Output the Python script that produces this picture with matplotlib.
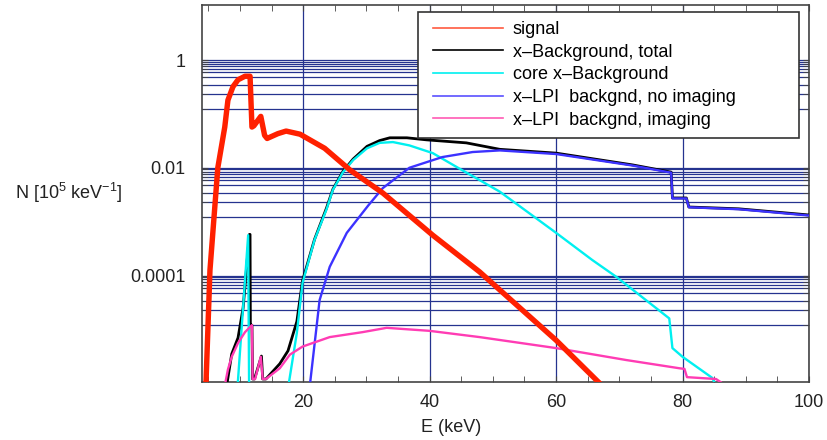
import numpy as np
import matplotlib
matplotlib.use('Agg')
import matplotlib.pyplot as plt
from matplotlib.ticker import FixedLocator, NullFormatter, MultipleLocator
from matplotlib.legend_handler import HandlerLine2D

plt.rcParams['font.family'] = ['Liberation Sans', 'DejaVu Sans']
plt.rcParams['mathtext.fontset'] = 'custom'
plt.rcParams['mathtext.rm'] = 'Liberation Sans'

# signal
signal_E = [4.6, 5.26, 6.5, 7.6, 8.1, 8.9, 9.7, 10.8, 11.6, 11.9, 12.2, 13.3, 13.9, 14.3,
            16.0, 17.3, 19.5, 23.4, 27.4, 32.6, 40.5, 47.9, 60.0, 67.5]
signal_N = [8e-7, 1.26e-4, 0.01, 0.057, 0.18, 0.32, 0.43, 0.5, 0.5, 0.057, 0.06, 0.09, 0.04, 0.035,
            0.043, 0.048, 0.042, 0.023, 0.0091, 0.0034, 5.6e-4, 1.17e-4, 6.3e-6, 8.5e-7]

# x-Background total
total_E = [7.9, 8.7, 9.7, 10.5, 11.0, 11.5, 11.6, 11.65, 11.9, 12.0, 12.3, 13.4, 13.6, 14.1,
           16.3, 17.6, 19.0, 19.9, 21.8, 23.7, 24.7, 26.3, 27.9, 30.1, 32.1, 33.7, 36.4, 39.5,
           45.8, 51.1, 60.0, 72.1, 78.2, 78.4, 80.6, 81.0, 88.9, 100]
total_N = [9e-7, 3.5e-6, 7e-6, 2.5e-5, 1.2e-4, 5.8e-4, 5.8e-4, 1.2e-5, 1.2e-5, 1.2e-6, 1.2e-6,
           3.2e-6, 1.2e-6, 1.2e-6, 2.3e-6, 4e-6, 1.4e-5, 8e-5, 4.7e-4, 1.8e-3, 4e-3, 8.6e-3,
           0.0145, 0.025, 0.032, 0.036, 0.036, 0.033, 0.029, 0.022, 0.0187, 0.0113, 8.3e-3,
           2.75e-3, 2.75e-3, 1.87e-3, 1.73e-3, 1.33e-3]

# core x-Background
core_E = [9.6, 11.3, 11.45, 17.6, 19.0, 19.9, 21.8, 23.7, 24.7, 26.3, 27.9, 30.1, 32.1, 34.2,
          36.8, 40.5, 44.3, 51.1, 60.0, 65.7, 69.5, 77.9, 78.4, 80.0, 84.7, 85.5]
core_N = [8e-7, 5.6e-4, 8e-7, 8e-7, 8.6e-6, 7.3e-5, 4.6e-4, 1.7e-3, 3.9e-3, 8.3e-3, 0.0139,
          0.023, 0.029, 0.030, 0.026, 0.0187, 0.0103, 3.6e-3, 6.2e-4, 1.95e-4, 9.5e-5, 1.6e-5,
          4.5e-6, 3.1e-6, 1.26e-6, 8e-7]

# x-LPI background, no imaging
lpi_E = [21.0, 22.6, 24.2, 26.9, 30.3, 32.6, 36.8, 42.0, 46.8, 51.1, 60.0, 72.1, 78.2, 78.4,
         80.6, 81.0, 88.9, 100]
lpi_N = [8e-7, 3.5e-5, 1.45e-4, 6.2e-4, 2e-3, 4.2e-3, 0.01, 0.0158, 0.0196, 0.021, 0.018,
         0.011, 8.1e-3, 2.7e-3, 2.7e-3, 1.85e-3, 1.7e-3, 1.3e-3]

# x-LPI background, imaging
img_E = [7.6, 8.1, 8.7, 9.7, 10.8, 11.9, 12.0, 12.4, 13.3, 13.6, 14.1, 16.3, 17.9, 19.9,
         24.2, 29.4, 33.2, 40.0, 47.9, 60.0, 71.1, 79.5, 80.3, 80.7, 85.3, 86.3]
img_N = [9e-7, 1.8e-6, 3.1e-6, 5.6e-6, 8.9e-6, 1.2e-5, 1.2e-6, 1.2e-6, 3.1e-6, 1.2e-6, 1.2e-6,
         1.9e-6, 3.4e-6, 4.8e-6, 7.2e-6, 8.9e-6, 1.07e-5, 9.4e-6, 7.2e-6, 4.5e-6, 2.7e-6,
         1.9e-6, 1.85e-6, 1.3e-6, 1.2e-6, 1.0e-6]

labels = ['signal', 'x\u2013Background, total', 'core x\u2013Background',
          'x\u2013LPI  backgnd, no imaging', 'x\u2013LPI  backgnd, imaging']
major_y = [1, 0.01, 0.0001]
major_x = [20, 40, 60, 80, 100]

grid_col = '#25338f'
fig = plt.figure(figsize=(8.27, 4.40), dpi=100)
ax = fig.add_axes([202/827, 1-381.7/440, 607/827, 376.7/440])

ax.plot(total_E, total_N, color='black', lw=2.0, zorder=3)
ax.plot(core_E, core_N, color='#00f0f0', lw=1.7, zorder=4)
ax.plot(lpi_E, lpi_N, color='#3c32ff', lw=1.7, zorder=4)
ax.plot(img_E, img_N, color='#ff3cb4', lw=1.7, zorder=5)
ax.plot(signal_E, signal_N, color='#ff2000', lw=3.9, zorder=6)

ax.set_yscale('log')
ax.set_xlim(4, 100)
ax.set_ylim(1.07e-6, 10.5)

# odd minor tick spacing of the original program, measured in pixels below each decade
off_px = np.array([1.5, 3.8, 6.2, 9.0, 12.0, 17.0, 25.0, 34.2, 49.2])
minor_y = np.concatenate([d * 10 ** (-off_px / 53.9) for d in major_y])
ax.yaxis.set_major_locator(FixedLocator(major_y))
ax.set_yticklabels(['1', '0.01', '0.0001'])
ax.yaxis.set_minor_locator(FixedLocator(minor_y))
ax.yaxis.set_minor_formatter(NullFormatter())
ax.xaxis.set_major_locator(FixedLocator(major_x))
ax.xaxis.set_minor_locator(MultipleLocator(5))

ax.grid(True, which='both', axis='y', color=grid_col, lw=0.9, zorder=1)
ax.grid(True, which='major', axis='x', color=grid_col, lw=0.9, zorder=1)
ax.set_axisbelow(True)

ax.tick_params(which='both', direction='in', top=True, right=True, colors='#444444',
               labelcolor='#222222', labelsize=13)
ax.tick_params(which='major', length=4, pad=9)
ax.tick_params(which='minor', length=4)
ax.tick_params(axis='y', pad=12)
for s in ax.spines.values():
    s.set_color('#444444')
    s.set_linewidth(1.2)

ax.set_xlabel('E (keV)', fontsize=13, color='#222222')
ax.xaxis.set_label_coords(0.41, -0.1)
ax.set_ylabel(r'N [10$^{5}$ keV$^{-1}$]', fontsize=13, rotation=0, color='#222222',
              ha='center', va='center')
ax.yaxis.set_label_coords(-0.22, 0.5)

handles = [plt.Line2D([], [], color=c, lw=1.2) for c in
           ['#ff5a40', 'black', '#00f0f0', '#5a50ff', '#ff5ab4']]
leg = ax.legend(handles, labels, loc='upper left', mode='expand',
                bbox_to_anchor=(0.356, 0.658, 0.627, 0.323), fontsize=13,
                handlelength=4.2, handletextpad=0.55, labelspacing=0.31,
                borderpad=0.5, fancybox=False, framealpha=1, borderaxespad=0,
                handler_map={plt.Line2D: HandlerLine2D(xpad=0.3)})
leg.get_frame().set_edgecolor('#333333')
leg.get_frame().set_linewidth(1.2)
leg.set_zorder(10)

fig.savefig('out.png', dpi=100)
